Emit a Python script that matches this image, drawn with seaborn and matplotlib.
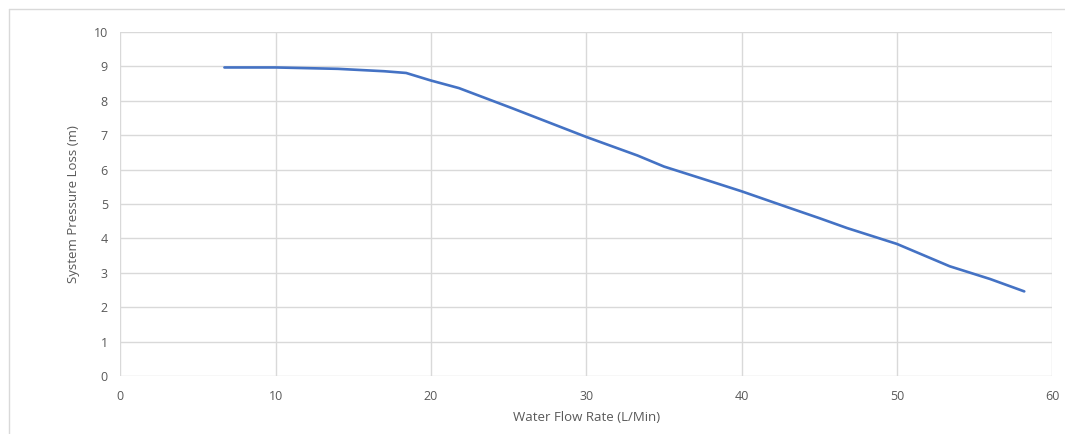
import numpy as np
import pandas as pd
import matplotlib
matplotlib.use("Agg")
import matplotlib.pyplot as plt
import seaborn as sns
from matplotlib.lines import Line2D

# values
flow_rate = [6.7, 10, 14, 17, 18.4, 20, 21.8, 25.2, 28, 30, 33.3, 35, 38, 40,
             43, 45, 46.8, 50, 53.4, 56, 58.2]
pressure_loss = [8.97, 8.97, 8.93, 8.86, 8.81, 8.59, 8.37, 7.79, 7.30, 6.95, 6.41,
                 6.09, 5.66, 5.37, 4.90, 4.59, 4.30, 3.84, 3.19, 2.82, 2.46]
x_ticks = [0, 10, 20, 30, 40, 50, 60]
y_ticks = list(range(0, 11))

df = pd.DataFrame({"flow": flow_rate, "loss": pressure_loss})

sns.set_style("white")
plt.rcParams["font.family"] = ["Open Sans", "DejaVu Sans"]

GRID = "#d9d9d9"
TXT = "#595959"

fig = plt.figure(figsize=(10.65, 4.34), dpi=100)
ax = fig.add_axes([0.113, 0.1336, 0.875, 0.7926])

sns.lineplot(data=df, x="flow", y="loss", ax=ax, color="#4472C4", linewidth=1.9,
             solid_capstyle="round", solid_joinstyle="round")

ax.set_xlim(0, 60)
ax.set_ylim(0, 10)
ax.set_xticks(x_ticks)
ax.set_yticks(y_ticks)
ax.grid(True, color=GRID, linewidth=1.0)
ax.set_axisbelow(True)
for s in ax.spines.values():
    s.set_visible(False)
ax.tick_params(axis="both", length=0, labelsize=9, labelcolor=TXT)
ax.tick_params(axis="x", pad=10)
ax.tick_params(axis="y", pad=9)

ax.set_xlabel("Water Flow Rate (L/Min)", fontsize=9.5, color=TXT, labelpad=6)
ax.set_ylabel("System Pressure Loss (m)", fontsize=9.5, color=TXT, labelpad=10)

# chart area border (left and top edges visible in the crop)
fig.add_artist(Line2D([9 / 1065, 9 / 1065], [0, 1 - 9 / 434], transform=fig.transFigure,
                      color=GRID, linewidth=1.0))
fig.add_artist(Line2D([9 / 1065, 1], [1 - 9 / 434, 1 - 9 / 434], transform=fig.transFigure,
                      color=GRID, linewidth=1.0))

fig.savefig("out.png", dpi=100)
